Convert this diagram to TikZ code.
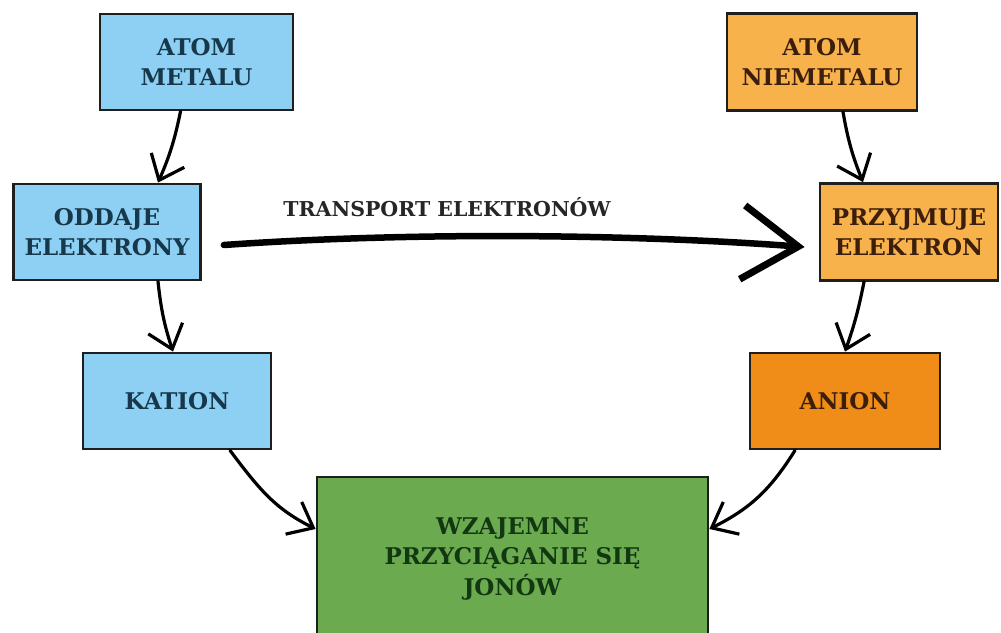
\documentclass[tikz,border=0pt]{standalone}
\usepackage{fontspec}
\setmainfont{DejaVu Serif}
\usetikzlibrary{arrows.meta}
\definecolor{lblue}{RGB}{142,208,243}
\definecolor{lorange}{RGB}{248,178,76}
\definecolor{dorange}{RGB}{240,140,24}
\definecolor{lgreen}{RGB}{108,170,80}
\definecolor{boxline}{RGB}{30,30,30}
\definecolor{tblue}{RGB}{22,56,74}
\definecolor{tbrown}{RGB}{60,30,12}
\definecolor{tgreen}{RGB}{18,56,18}
\begin{document}
\begin{tikzpicture}[x=1pt,y=-1pt,
  box/.style={draw=boxline, line width=2.8pt, align=center, inner sep=0pt,
    font=\bfseries\fontsize{23}{30}\selectfont},
  conn/.style={line width=3.2pt, line cap=round, line join=round,
    -{Straight Barb[length=22pt,width=36pt,line width=3.2pt]}},
  bigconn/.style={line width=6.5pt, line cap=round, line join=round,
    -{Straight Barb[length=56pt,width=74pt,line width=7pt]}}]
\useasboundingbox (0,0) rectangle (1001,632);
\fill[white] (0,0) rectangle (1001,632);
% left column
\node[box, fill=lblue, text=tblue, minimum width=193pt, minimum height=96pt] (am) at (196.5,62) {ATOM\\METALU};
\node[box, fill=lblue, text=tblue, minimum width=187pt, minimum height=96pt] (od) at (107,232) {ODDAJE\\ELEKTRONY};
\node[box, fill=lblue, text=tblue, minimum width=188pt, minimum height=96pt] (ka) at (177,401) {KATION};
% right column
\node[box, fill=lorange, text=tbrown, minimum width=190pt, minimum height=97pt] (anm) at (822,62) {ATOM\\NIEMETALU};
\node[box, fill=lorange, text=tbrown, minimum width=178pt, minimum height=97pt] (pr) at (909,232) {PRZYJMUJE\\ELEKTRON};
\node[box, fill=dorange, text=tbrown, minimum width=190pt, minimum height=96pt] (ani) at (845,401) {ANION};
% bottom
\node[box, fill=lgreen, text=tgreen, minimum width=391pt, minimum height=164pt] (wz) at (512.5,559) {WZAJEMNE\\PRZYCIĄGANIE SIĘ\\JONÓW};
% label
\node[font=\bfseries\fontsize{20.5}{24}\selectfont, text=black!85] (tl) at (447,207) {TRANSPORT ELEKTRONÓW};
% connectors
\draw[conn] ([xshift=-16pt]am.south) to[bend left=6] ([xshift=51pt]od.north);
\draw[conn] ([xshift=51pt]od.south) to[bend right=6] ([xshift=-4pt]ka.north);
\draw[conn] ([xshift=21pt]anm.south) to[bend right=6] ([xshift=-46pt]pr.north);
\draw[conn] ([xshift=-45pt]pr.south) to[bend left=4] (ani.north);
\draw[conn] ([xshift=53pt]ka.south) .. controls +(30,40) and +(-40,-20) .. ([yshift=30pt]wz.west);
\draw[conn] ([xshift=-50pt]ani.south) .. controls +(-25,40) and +(40,-20) .. ([yshift=30pt]wz.east);
\draw[bigconn] ([xshift=22pt,yshift=-13pt]od.east) .. controls +(200,-14) and +(-160,-12) .. ([xshift=-14pt,yshift=-15pt]pr.west);
\end{tikzpicture}
\end{document}
